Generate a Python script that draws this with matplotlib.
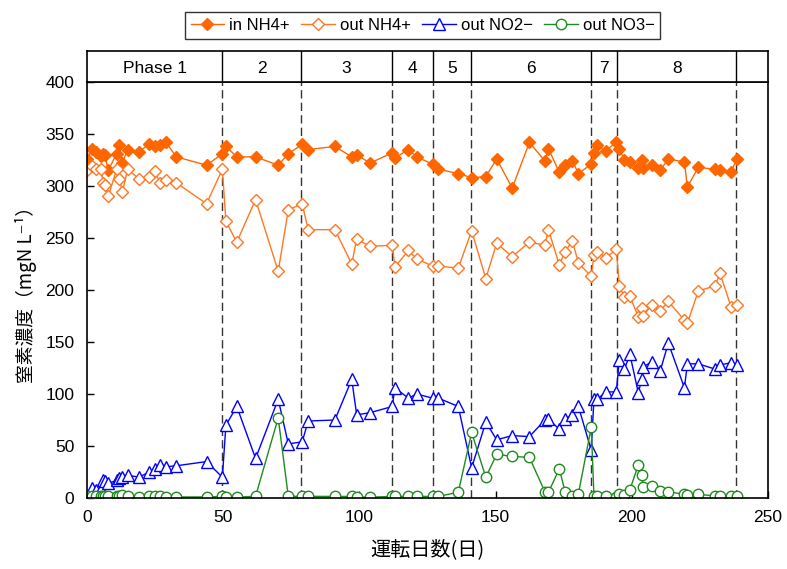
import matplotlib
matplotlib.use("Agg")
import matplotlib.pyplot as plt

plt.rcParams['font.family'] = ['Liberation Sans', 'Noto Sans CJK JP', 'DejaVu Sans']

# operation days (shared by all four series)
days = [0, 2, 3.3, 5, 6, 6.6, 7.8, 10.9, 11.9, 13, 14.9, 19.1, 22.8, 25, 26.8, 29, 32.8,
        43.9, 49.7, 51, 55, 61.9, 70.2, 73.9, 79, 81.2,
        91, 97.2, 99, 103.9, 112.1, 113, 118, 121, 126.9, 129, 136.3, 141.2, 146.4,
        150.4, 156.1, 162.4,
        168.1, 169.4, 173.4, 175.5, 178.2, 180.4, 185.1, 186.1, 187.3, 190.5, 194.3,
        195.4, 197.3, 199.3, 202.4, 203.6, 204.2, 207.3, 210.4, 213.4, 219.3, 220.4,
        224.4, 230.5, 232.4, 236.4, 238.5]

in_nh4 = [326, 336, 333, 329, 331, 330, 315, 331, 339, 322, 335, 333, 340, 338, 339, 342, 328,
          320, 331, 338, 328, 328, 320, 331, 340, 335,
          338, 328, 330, 322, 332, 327, 335, 328, 321, 316, 312, 308, 309,
          326, 298, 342,
          324, 336, 313, 320, 324, 312, 321, 332, 339, 334, 342,
          336, 325, 323, 317, 325, 317, 320, 315, 326, 323, 299,
          318, 316, 315, 313, 326]

out_nh4 = [315, 319, 316, 316, 303, 301, 290, 316, 307, 294, 316, 307, 309, 314, 303, 306, 303,
           283, 316, 266, 246, 287, 218, 277, 283, 258,
           258, 225, 249, 242, 243, 222, 238, 230, 223, 223, 221, 257, 211,
           245, 232, 246,
           243, 258, 224, 237, 247, 226, 213, 234, 237, 231, 239,
           204, 193, 194, 174, 183, 175, 186, 180, 189, 171, 168,
           199, 204, 216, 184, 186]

out_no2 = [1, 10, 8, 9, 17, 16, 14, 17, 19, 20, 22, 20, 25, 28, 32, 30, 31,
           35, 20, 70, 88, 38, 95, 52, 54, 74,
           75, 114, 80, 82, 88, 106, 96, 100, 96, 96, 88, 29, 73,
           56, 60, 59,
           75, 76, 66, 76, 80, 88, 46, 95, 95, 102, 102,
           133, 124, 138, 101, 114, 126, 131, 122, 149, 106, 129,
           129, 124, 128, 130, 128]

out_no3 = [1.5, 1.5, 1.5, 1.5, 1.5, 1.5, 1.5, 1.5, 1.5, 3, 2, 0.8, 1.5, 2, 2, 1, 1,
           1, 1.5, 0.8, 0.8, 1.6, 77, 1.6, 1.6, 1.6,
           1.5, 1.5, 0.8, 0.8, 1.5, 1.5, 1.5, 1.5, 1.5, 1.5, 5.5, 63, 20,
           42, 40, 39,
           6, 5.5, 28, 6, 2, 4, 68, 2, 1.5, 1.5, 0.5,
           4, 2.5, 8, 32, 22, 11, 11.5, 7, 6, 3.5, 3,
           3.5, 2, 2, 2, 2]

phase_ends = [49.6, 78.6, 112.0, 127.1, 141.0, 185.1, 194.6, 238.3]
phase_labels = ["Phase 1", "2", "3", "4", "5", "6", "7", "8"]

orange = "#FF6600"
orange_light = "#FF7722"

fig = plt.figure(figsize=(7.87, 5.69), dpi=100)
ax = fig.add_axes([0.1105, 0.1248, 0.8654, 0.7311])

ax.plot(days, in_nh4, color=orange, marker="D", ms=6.5, lw=1, label="in NH4+")
ax.plot(days, out_nh4, color=orange_light, marker="D", ms=6.5, lw=1, mfc="white",
        mec=orange_light, mew=1, label="out NH4+")
ax.plot(days, out_no2, color="#0000FF", marker="^", ms=8.5, lw=1, mfc="white",
        mec="#0000FF", mew=1, label="out NO2\u2212")
ax.plot(days, out_no3, color="#1E8B1E", marker="o", ms=7.5, lw=1, mfc="white",
        mec="#1E8B1E", mew=1, label="out NO3\u2212")

for d in phase_ends:
    ax.axvline(d, color="#333333", lw=1, ls=(0, (6, 3)), zorder=0)

ax.set_xlim(0, 250)
ax.set_ylim(0, 400)
ax.set_xticks(range(0, 251, 50))
ax.set_yticks(range(0, 401, 50))
ax.tick_params(direction="in", labelsize=12.5, length=5, width=1, pad=9)
for s in ax.spines.values():
    s.set_linewidth(1.2)
ax.set_xlabel("運転日数(日)", fontsize=14.5, labelpad=10,
              family=['Noto Sans CJK JP', 'DejaVu Sans'])
ax.set_ylabel("窒素濃度（mgN L\u207b\u00b9）", fontsize=13.5, labelpad=6,
              family=['Noto Sans CJK JP', 'DejaVu Sans'])

# phase band above the plot
axp = fig.add_axes([0.1105, 0.8559, 0.8654, 0.0545])
axp.set_xlim(0, 250)
axp.set_ylim(0, 1)
axp.set_xticks([])
axp.set_yticks([])
for s in axp.spines.values():
    s.set_linewidth(1.2)
start = 0
for d, lab in zip(phase_ends, phase_labels):
    axp.axvline(d, color="black", lw=1)
    axp.text((start + d) / 2, 0.45, lab, ha="center", va="center", fontsize=12.5)
    start = d

fig.legend(loc="upper center", bbox_to_anchor=(0.537, 0.993), ncol=4, fontsize=12,
           frameon=True, fancybox=False, edgecolor="black", handlelength=2,
           handletextpad=0.3, columnspacing=0.7, borderpad=0.35)

fig.savefig("out.png", dpi=100)
